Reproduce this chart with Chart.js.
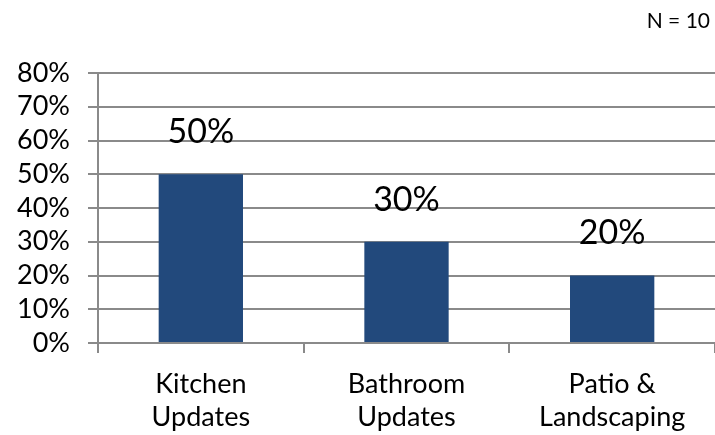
<!DOCTYPE html>
<html>
<head>
<meta charset="utf-8">
<script src="https://cdn.jsdelivr.net/npm/chart.js@4.4.0/dist/chart.umd.min.js"></script>
<style>
  html, body { margin: 0; padding: 0; background: #fff; overflow: hidden; }
  #wrap { width: 715px; height: 435px; position: relative; }
</style>
</head>
<body>
<div id="wrap"><canvas id="chart"></canvas></div>
<script>
// chart data
const categories = [['Kitchen', 'Updates'], ['Bathroom', 'Updates'], ['Patio &', 'Landscaping']];
const shares = [50, 30, 20];
const yTicks = [0, 10, 20, 30, 40, 50, 60, 70, 80];
const sampleNote = 'N = 10';

const fontFamily = 'Lato, "Noto Sans", sans-serif';
const gridColor = '#8a8a8a';

// value labels above bars + the N note
const labelsPlugin = {
    id: 'valueLabels',
    afterDatasetsDraw(chart) {
        const ctx = chart.ctx;
        const meta = chart.getDatasetMeta(0);
        ctx.save();
        ctx.fillStyle = '#000';
        ctx.font = '34px ' + fontFamily;
        ctx.textAlign = 'center';
        ctx.textBaseline = 'middle';
        meta.data.forEach(function(bar, i) {
            ctx.fillText(shares[i] + '%', bar.x, bar.y - 42);
        });
        ctx.font = '21px ' + fontFamily;
        ctx.textAlign = 'right';
        ctx.textBaseline = 'middle';
        ctx.fillText(sampleNote, 710, 21);
        ctx.restore();
    }
};

const ctx = document.getElementById('chart').getContext('2d');
const chart = new Chart(ctx, {
    type: 'bar',
    data: {
        labels: categories,
        datasets: [{
            data: shares,
            backgroundColor: '#22497c',
            barPercentage: 0.82,
            categoryPercentage: 0.5
        }]
    },
    plugins: [labelsPlugin],
    options: {
        responsive: true,
        maintainAspectRatio: false,
        animation: false,
        layout: { padding: { top: 73, right: 0, left: 0, bottom: 0 } },
        plugins: {
            legend: { display: false },
            tooltip: { enabled: false }
        },
        scales: {
            x: {
                grid: {
                    display: true,
                    drawOnChartArea: false,
                    offset: true,
                    color: gridColor,
                    lineWidth: 2,
                    tickLength: 10
                },
                border: { color: gridColor, width: 2 },
                ticks: {
                    color: '#000',
                    font: { family: fontFamily, size: 27, lineHeight: 1.25 },
                    padding: 14,
                    maxRotation: 0
                },
                afterFit(scale) { scale.height = 92; }
            },
            y: {
                min: 0,
                max: 80,
                afterBuildTicks(scale) {
                    scale.ticks = yTicks.map(function(v) { return { value: v }; });
                },
                grid: {
                    color: gridColor,
                    lineWidth: 2,
                    tickLength: 10
                },
                border: { color: gridColor, width: 2 },
                ticks: {
                    color: '#000',
                    autoSkip: false,
                    font: { family: fontFamily, size: 27 },
                    padding: 18,
                    callback: function(value) { return value + '%'; }
                },
                afterFit(scale) { scale.width = 98; }
            }
        }
    }
});
</script>
</body>
</html>
